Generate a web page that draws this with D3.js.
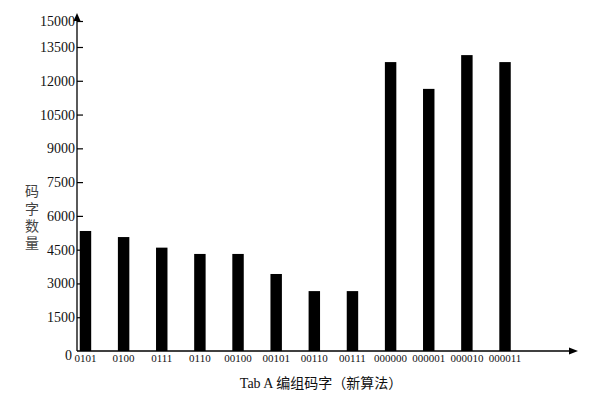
<!DOCTYPE html>
<html>
<head>
<meta charset="utf-8">
<script src="https://cdn.jsdelivr.net/npm/d3@7"></script>
<style>
body{margin:0;background:#fff;}
svg{display:block;}
</style>
</head>
<body>
<svg id="chart" width="595" height="401"></svg>
<script>
// 데이터
var categories = ["0101","0100","0111","0110","00100","00101","00110","00111","000000","000001","000010","000011"];
var counts = [5330, 5060, 4590, 4310, 4310, 3420, 2660, 2660, 12830, 11640, 13140, 12830];
var yTicks = [0,1500,3000,4500,6000,7500,9000,10500,12000,13500,15000];
var yTitle = "码字数量";
var xTitle = "Tab A 编组码字（新算法）";

var svg = d3.select("#chart");
var x0 = 77, y0 = 351;
var serif = "'Liberation Serif','DejaVu Serif',serif";

var x = d3.scaleBand()
	.domain(categories)
	.range([79.75, 510.75])
	.paddingInner(0.7)
	.paddingOuter(0);

// 위쪽 눈금 간격이 좁아서 구간별 스케일 사용
var y = d3.scaleLinear()
	.domain([0, 13500, 15000])
	.range([y0, 47, 21]);

// 막대
svg.append("g")
	.selectAll("rect")
	.data(counts)
	.enter()
	.append("rect")
	.attr("x", function(d,i){ return x(categories[i]); })
	.attr("y", function(d){ return y(d); })
	.attr("width", x.bandwidth())
	.attr("height", function(d){ return y0 - y(d); })
	.attr("fill", "#000");

// y축
var yAxis = svg.append("g")
	.attr("transform", "translate(" + x0 + ",0)")
	.call(d3.axisLeft(y).tickValues(yTicks).tickFormat(d3.format("d"))
		.tickSizeInner(-6).tickSizeOuter(0).tickPadding(2));
yAxis.attr("font-family", null).attr("font-size", null);
yAxis.select(".domain").remove();
yAxis.selectAll(".tick line").attr("stroke", "#000").attr("stroke-width", 1.2);
yAxis.selectAll(".tick text")
	.style("font-family", serif)
	.style("font-size", "14px")
	.attr("fill", "#111");
yAxis.selectAll(".tick").filter(function(d){ return d === 0; })
	.select("text").attr("x", -5).attr("dy", "0.75em").attr("y", -2);
yAxis.selectAll(".tick").filter(function(d){ return d === 0; })
	.select("line").remove();

// x축
var xAxis = svg.append("g")
	.attr("transform", "translate(0," + y0 + ")")
	.call(d3.axisBottom(x).tickSize(0).tickPadding(3));
xAxis.attr("font-family", null).attr("font-size", null);
xAxis.select(".domain").remove();
xAxis.selectAll(".tick text")
	.style("font-family", serif)
	.style("font-size", "11px")
	.attr("fill", "#111");

// 축 선과 화살표
svg.append("line").attr("x1", x0).attr("y1", y0).attr("x2", x0).attr("y2", 18)
	.attr("stroke", "#000").attr("stroke-width", 1.3);
svg.append("line").attr("x1", x0).attr("y1", y0).attr("x2", 572).attr("y2", y0)
	.attr("stroke", "#000").attr("stroke-width", 1.3);
svg.append("path").attr("d", "M77,13 L73.5,21 L80.5,21 Z").attr("fill", "#000");
svg.append("path").attr("d", "M578,351 L569,347.5 L569,354.5 Z").attr("fill", "#000");

// 제목 (세로쓰기)
svg.append("text")
	.attr("x", 32).attr("y", 184)
	.style("writing-mode", "vertical-rl")
	.style("text-orientation", "upright")
	.style("letter-spacing", "3.3px")
	.style("font-family", "'Noto Sans CJK SC',sans-serif")
	.style("font-size", "14px")
	.attr("fill", "#444")
	.text(yTitle);

svg.append("text")
	.attr("x", 321).attr("y", 388)
	.attr("text-anchor", "middle")
	.style("font-family", "'Liberation Serif','Noto Sans CJK SC',serif")
	.style("font-size", "14px")
	.attr("fill", "#111")
	.text(xTitle);
</script>
</body>
</html>
